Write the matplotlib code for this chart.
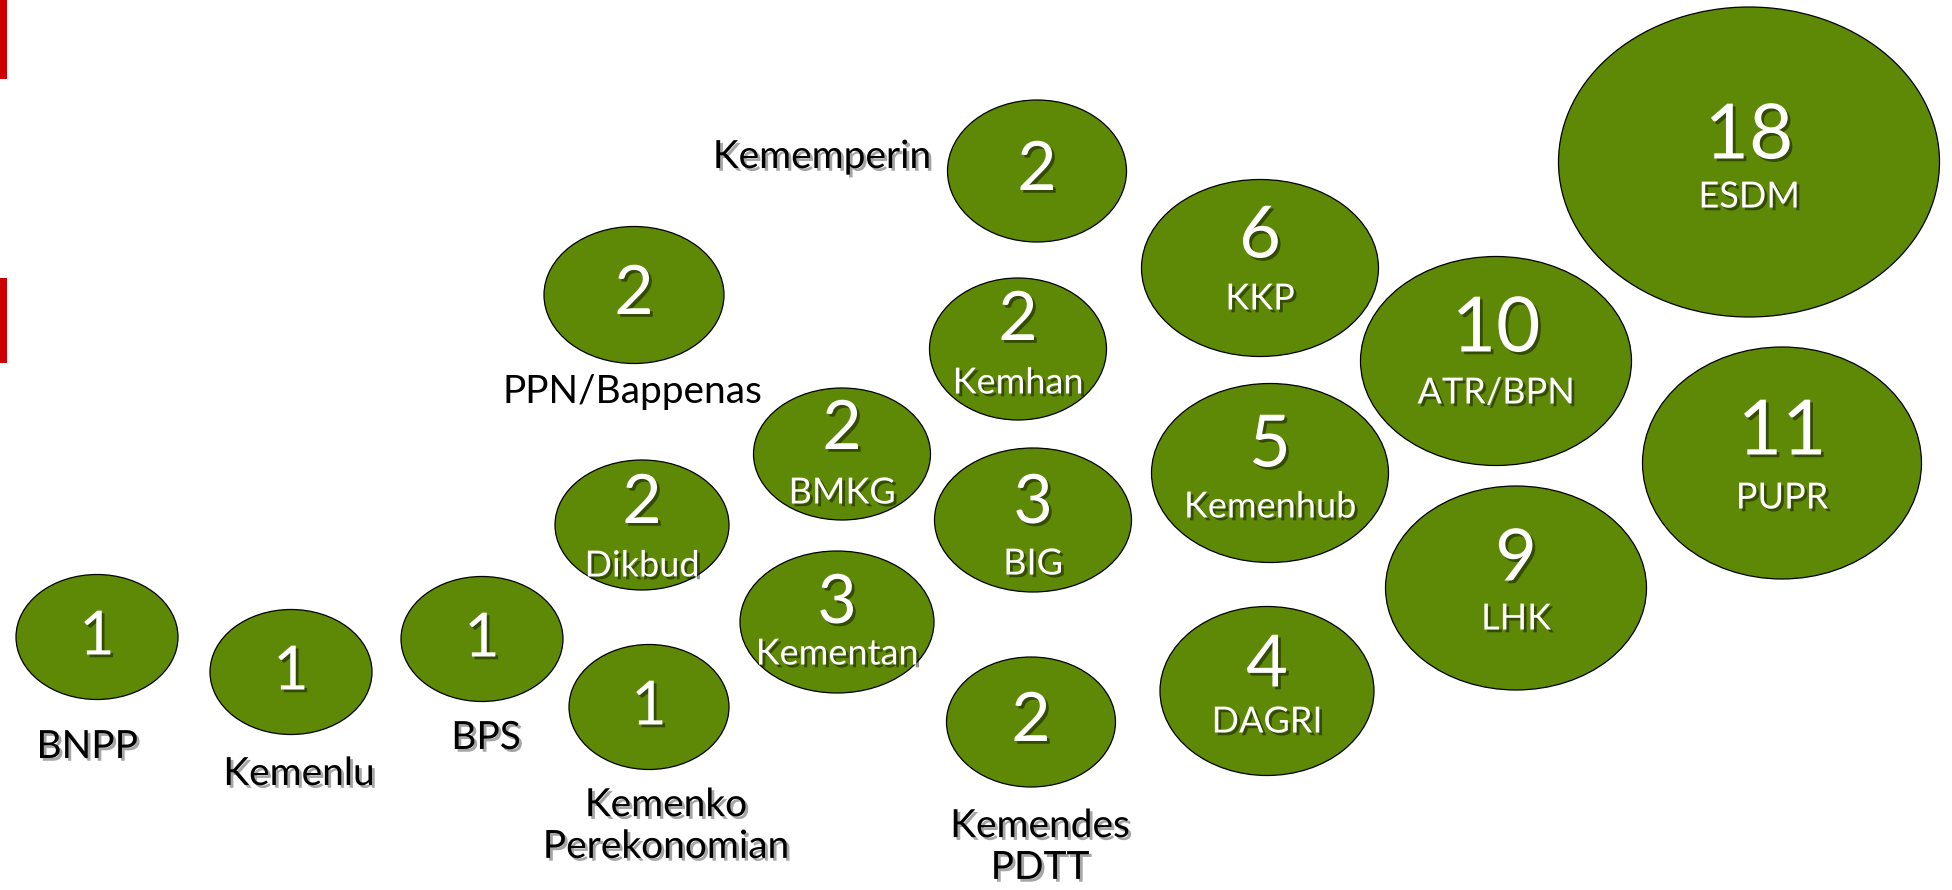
import matplotlib
matplotlib.use("Agg")
import matplotlib.pyplot as plt
from matplotlib.patches import Ellipse, Rectangle
import matplotlib.patheffects as pe

# ---- data ----
names = ["BNPP", "Kemenlu", "BPS", "Kemenko\nPerekonomian", "Dikbud", "PPN/Bappenas",
         "BMKG", "Kementan", "Kememperin", "Kemhan", "BIG", "Kemendes\nPDTT",
         "KKP", "Kemenhub", "DAGRI", "ATR/BPN", "LHK", "ESDM", "PUPR"]
values = [1, 1, 1, 1, 2, 2, 2, 3, 2, 2, 3, 2, 6, 5, 4, 10, 9, 18, 11]
# where the name goes: 'in' = inside bubble, 'below', 'left'
label_place = ["below", "below", "below", "below", "in", "below", "in", "in", "left", "in",
               "in", "below", "in", "in", "in", "in", "in", "in", "in"]

# ---- layout (pixel coordinates of the 1952x890 canvas) ----
cx = [97, 291, 482, 649, 642, 634, 842, 837, 1037, 1018, 1033, 1031, 1260, 1270, 1267, 1496, 1516, 1749, 1782]
cy = [637, 672, 639, 707, 525, 295, 454, 622, 171, 349, 520, 722, 268, 473, 691, 361, 588, 162, 463]
ew = [162, 162, 162, 160, 174, 180, 177, 194, 179, 177, 197, 169, 237, 237, 214, 271, 261, 381, 279]
eh = [125, 125, 125, 125, 130, 137, 132, 142, 142, 142, 144, 130, 177, 179, 169, 209, 204, 310, 232]
num_dy = [0, 0, 0, 0, -21, 0, -24, -18, 0, -28, -16, 0, -31, -27, -25, -31, -28, -25, -30]
name_dy = [0, 0, 0, 0, 41, 0, 39, 32, 0, 34, 44, 0, 31, 34, 31, 32, 31, 35, 35]
out_x = [87, 299, 486, 666, 0, 632, 0, 0, 822, 0, 0, 1040, 0, 0, 0, 0, 0, 0, 0]
out_y = [747, 774, 738, 826, 0, 392, 0, 0, 157, 0, 0, 847, 0, 0, 0, 0, 0, 0, 0]
out_shadow = [True, True, True, True, False, False, False, False, True, False,
              False, True, False, False, False, False, False, False, False]

GREEN = "#5E8906"
W, H = 1952, 890
fig = plt.figure(figsize=(W / 100, H / 100), dpi=100)
ax = fig.add_axes([0, 0, 1, 1])
ax.set_xlim(0, W)
ax.set_ylim(H, 0)
ax.axis("off")

FONT = ["Lato", "DejaVu Sans"]
shadow_w = [pe.SimplePatchShadow(offset=(2, -2), shadow_rgbFace="black", alpha=0.45), pe.Normal()]
shadow_k = [pe.SimplePatchShadow(offset=(2, -2), shadow_rgbFace="black", alpha=0.35), pe.Normal()]

# red side marks
ax.add_patch(Rectangle((0, 0), 7, 79, color="#CC0000", lw=0))
ax.add_patch(Rectangle((0, 278), 7, 85, color="#CC0000", lw=0))


def num_size(v):
    if v == 1:
        return 44
    if v <= 3:
        return 49
    if v <= 9:
        return 52
    return 55


for i, (n, v) in enumerate(zip(names, values)):
    ax.add_patch(Ellipse((cx[i], cy[i]), ew[i], eh[i], facecolor=GREEN,
                         edgecolor="black", lw=0.9))
    ax.text(cx[i], cy[i] + num_dy[i], str(v), color="white", fontsize=num_size(v),
            ha="center", va="center", family=FONT, path_effects=shadow_w)
    if label_place[i] == "in":
        ax.text(cx[i], cy[i] + name_dy[i], n, color="white", fontsize=26,
                ha="center", va="center", family=FONT, path_effects=shadow_w)
    else:
        ax.text(out_x[i], out_y[i], n, color="black", fontsize=28,
                ha="center", va="center", family=FONT, linespacing=1.2,
                path_effects=shadow_k if out_shadow[i] else None)

fig.savefig("out.png", dpi=100, facecolor="white")
